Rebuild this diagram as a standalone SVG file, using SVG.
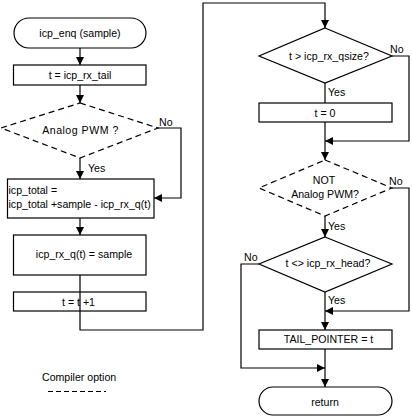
<svg xmlns="http://www.w3.org/2000/svg" width="412" height="416" viewBox="0 0 412 416">
<defs>
<marker id="arr" markerWidth="10" markerHeight="10" refX="8" refY="4" orient="auto" markerUnits="userSpaceOnUse">
<path d="M0,0 L8,4 L0,8 Z" fill="#000"/>
</marker>
<style>
text{font-family:"Liberation Sans",Arial,sans-serif;font-size:10.6px;fill:#000}
.c{text-anchor:middle}
.box{fill:#fff;stroke:#000;stroke-width:1.2}
.dash{fill:#fff;stroke:#000;stroke-width:1.2;stroke-dasharray:6,4}
.ln{fill:none;stroke:#000;stroke-width:1.2}
</style>
</defs>
<rect width="412" height="416" fill="#fff"/>
<g id="start"><rect class="box" x="14" y="18" width="132" height="30" rx="15" ry="15"/><text class="c" x="80" y="37">icp_enq (sample)</text></g>
<g id="tail"><rect class="box" x="13.5" y="65" width="132.5" height="20"/><text class="c" x="80" y="79">t = icp_rx_tail</text></g>
<g id="pwm1"><polygon class="dash" points="80,103 158,128 80,158 1,128"/><text class="c" x="80.5" y="134" letter-spacing="0.5">Analog PWM ?</text></g>
<g id="total"><rect class="box" x="7.5" y="179" width="146.5" height="39"/><text x="8.5" y="194">icp_total =</text><text x="8.5" y="208">icp_total +sample - icp_rx_q(t)</text></g>
<g id="store"><rect class="box" x="13.5" y="235" width="132.5" height="40"/><text class="c" x="84" y="258">icp_rx_q(t) = sample</text></g>
<g id="inc"><rect class="box" x="13.5" y="292" width="132.5" height="19"/><text class="c" x="78.5" y="306">t = t +1</text></g>
<g id="qsize"><polygon class="box" points="325,28 392,56 325,83 259,56"/><text class="c" x="329" y="60">t &gt; icp_rx_qsize?</text></g>
<g id="zero"><rect class="box" x="259" y="103" width="133" height="19"/><text class="c" x="325" y="117">t = 0</text></g>
<g id="pwm2"><polygon class="dash" points="325,160 392,188 325,216 259,188"/><text class="c" x="324" y="184">NOT</text><text class="c" x="325" y="198">Analog PWM?</text></g>
<g id="head"><polygon class="box" points="325,237 392,264 325,292 259,264"/><text class="c" x="328" y="267">t &lt;&gt; icp_rx_head?</text></g>
<g id="tailptr"><rect class="box" x="259" y="330" width="133" height="19"/><text class="c" x="328.5" y="343">TAIL_POINTER = t</text></g>
<g id="ret"><rect class="box" x="259" y="387" width="133" height="28" rx="14" ry="14"/><text class="c" x="325" y="406">return</text></g>
<g id="legend"><text x="42" y="381">Compiler option</text><line x1="48" y1="391.5" x2="106" y2="391.5" stroke="#000" stroke-width="1" stroke-dasharray="5,3"/></g>
<g id="connectors">
<line class="ln" x1="80" y1="48" x2="80" y2="65" marker-end="url(#arr)"/>
<line class="ln" x1="80" y1="85" x2="80" y2="103" marker-end="url(#arr)"/>
<line class="ln" x1="80" y1="158" x2="80" y2="179" marker-end="url(#arr)"/>
<polyline class="ln" points="158,128 181,128 181,198 154,198" marker-end="url(#arr)"/>
<line class="ln" x1="80" y1="218" x2="80" y2="235" marker-end="url(#arr)"/>
<polyline class="ln" points="80,275 80,330 203,330 203,3 325,3 325,28" marker-end="url(#arr)"/>
<polyline class="ln" points="392,56 409,56 409,141 325,141" marker-end="url(#arr)"/>
<line class="ln" x1="325" y1="83" x2="325" y2="103"/>
<line class="ln" x1="325" y1="122" x2="325" y2="160" marker-end="url(#arr)"/>
<polyline class="ln" points="392,188 409,188 409,311 325,311" marker-end="url(#arr)"/>
<line class="ln" x1="325" y1="216" x2="325" y2="237" marker-end="url(#arr)"/>
<polyline class="ln" points="259,264 241,264 241,368 325,368" marker-end="url(#arr)"/>
<line class="ln" x1="325" y1="292" x2="325" y2="330" marker-end="url(#arr)"/>
<line class="ln" x1="325" y1="349" x2="325" y2="387" marker-end="url(#arr)"/>
<text x="159" y="126">No</text>
<text x="88" y="172">Yes</text>
<text x="390" y="53">No</text>
<text x="328" y="96">Yes</text>
<text x="389" y="185">No</text>
<text x="328" y="230">Yes</text>
<text x="244" y="261">No</text>
<text x="328" y="304">Yes</text>
</g>
</svg>
